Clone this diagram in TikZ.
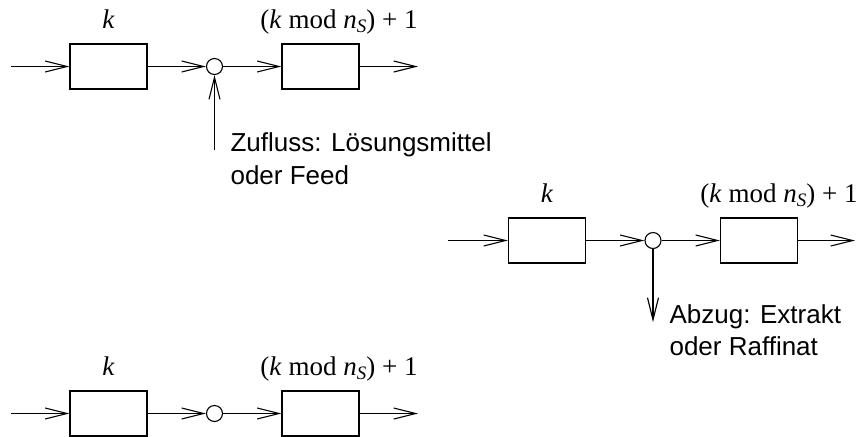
\documentclass[tikz,border=0pt]{standalone}
\usepackage{fontspec}
\setmainfont{Liberation Serif}
\setsansfont{Liberation Sans}
\usetikzlibrary{arrows.meta}
\tikzset{
  blk/.style={draw, minimum width=38.5pt, minimum height=22.5pt, inner sep=0pt},
  junc/.style={draw, circle, minimum size=8pt, inner sep=0pt},
  flow/.style={-{Straight Barb[length=11pt,width=5.5pt]}},
  lab/.style={font=\fontsize{13.5}{16}\selectfont\rmfamily, inner sep=0pt, anchor=base},
  note/.style={font=\fontsize{13}{16}\selectfont\sffamily, inner sep=0pt, anchor=base west},
}
\newcommand{\modlabel}{(\textit{k} mod \textit{n}\raisebox{-0.35ex}{\fontsize{9.5}{10}\selectfont\textit{S}}) + 1}
\begin{document}
\begin{tikzpicture}[x=0.5pt,y=-0.5pt, line width=0.55pt]
\useasboundingbox (0,0) rectangle (859,436);
% Row 1: Zufluss
\node[blk] (a1) at (108.5,66.5) {};
\node[junc] (c1) at (214.5,66.5) {};
\node[blk] (b1) at (320.5,66.5) {};
\coordinate (i1) at (11,66.5);
\coordinate (o1) at (418,66.5);
\coordinate (f1) at (214.5,150);
\node[lab] (ka1) at (108.5,28) {\textit{k}};
\node[lab] (kb1) at (339,28) {\modlabel};
\draw[flow] (i1) -- (a1.west);
\draw[flow] (a1.east) -- (c1.west);
\draw[flow] (c1.east) -- (b1.west);
\draw[flow] (b1.east) -- (o1);
\draw[flow] (f1) -- (c1.south);
\node[note] (t1) at (230,151) {Zufluss: Lösungsmittel};
\node[note] (t2) at (230,184) {oder Feed};
% Row 2: Abzug
\node[blk] (a2) at (547,240.5) {};
\node[junc] (c2) at (653,240.5) {};
\node[blk] (b2) at (759,240.5) {};
\coordinate (i2) at (448,240.5);
\coordinate (o2) at (855,240.5);
\coordinate (d2) at (653,322);
\node[lab] (ka2) at (547,202) {\textit{k}};
\node[lab] (kb2) at (779,202) {\modlabel};
\draw[flow] (i2) -- (a2.west);
\draw[flow] (a2.east) -- (c2.west);
\draw[flow] (c2.east) -- (b2.west);
\draw[flow] (b2.east) -- (o2);
\draw[flow] (c2.south) -- (d2);
\node[note] (t3) at (669,323) {Abzug: Extrakt};
\node[note] (t4) at (669,355) {oder Raffinat};
% Row 3: plain
\node[blk] (a3) at (108.5,413.5) {};
\node[junc] (c3) at (214.5,413.5) {};
\node[blk] (b3) at (320.5,413.5) {};
\coordinate (i3) at (11,413.5);
\coordinate (o3) at (418,413.5);
\node[lab] (ka3) at (108.5,375) {\textit{k}};
\node[lab] (kb3) at (339,375) {\modlabel};
\draw[flow] (i3) -- (a3.west);
\draw[flow] (a3.east) -- (c3.west);
\draw[flow] (c3.east) -- (b3.west);
\draw[flow] (b3.east) -- (o3);
\end{tikzpicture}
\end{document}
